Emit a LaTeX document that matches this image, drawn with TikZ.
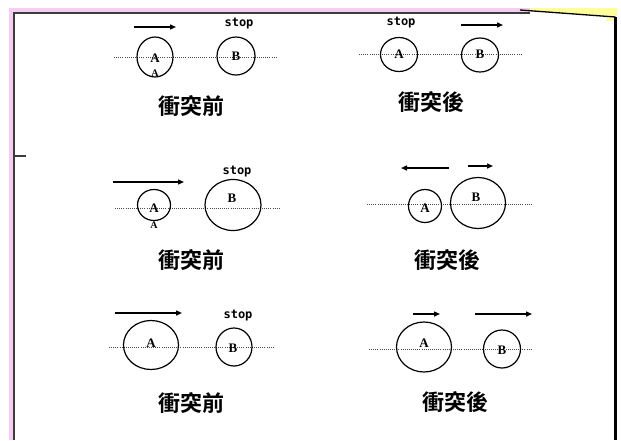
\documentclass[tikz,border=0pt]{standalone}
\usepackage{fontspec}
\usetikzlibrary{shapes.geometric,arrows.meta}
\newfontfamily\cjkfont{Noto Sans CJK TC}[BoldFont={Noto Sans CJK TC Bold}]
\newfontfamily\labfont{DejaVu Sans Mono}[BoldFont={DejaVu Sans Mono Bold}]
\newfontfamily\letfont{Liberation Serif}[BoldFont={Liberation Serif Bold}]
\definecolor{framegrey}{HTML}{3C3C3C}
\definecolor{pinkband}{HTML}{F6CDF2}
\definecolor{yellowband}{HTML}{FFFF99}
\tikzset{
  ball/.style={draw=black, line width=1.2pt, ellipse, inner sep=0pt, minimum width=#1},
  dotline/.style={draw=black!70, line width=0.8pt, dash pattern=on 0.9pt off 1.2pt},
  motion/.style={draw=black, line width=1.4pt, -{Triangle[length=6pt,width=5pt]}},
  stoplabel/.style={font=\labfont\bfseries\fontsize{12}{12}\selectfont, inner sep=0pt},
  balllabel/.style={font=\letfont\bfseries\fontsize{13}{13}\selectfont, inner sep=0pt},
  smalllabel/.style={font=\letfont\bfseries\fontsize{10}{10}\selectfont, inner sep=0pt},
  caption/.style={font=\cjkfont\bfseries\fontsize{22}{22}\selectfont, inner sep=0pt},
  frameline/.style={draw=framegrey, line width=2pt},
}
\begin{document}
\begin{tikzpicture}[x=1pt,y=-1pt]
\useasboundingbox (0,0) rectangle (621,440);
\fill[white] (0,0) rectangle (621,440);
% bands
\fill[pinkband] (9,8) rectangle (530,12);
\fill[pinkband] (9,8) rectangle (13,440);
\fill[yellowband] (530,8) -- (617,8) -- (617,16) -- (530,11) -- cycle;
\fill[yellowband] (606,18) rectangle (614,21);
% frame
\coordinate (ftl) at (14,13);
\coordinate (ftr) at (530,13);
\coordinate (fbl) at (14,440);
\coordinate (sa) at (520,10);
\coordinate (sb) at (615.5,17);
\coordinate (rb) at (615.5,440);
\coordinate (n1) at (14,156);
\coordinate (n2) at (26,156);
\draw[frameline] (fbl) -- (ftl) -- (ftr);
\draw[draw=black, line width=1.3pt] (sa) -- (sb);
\draw[draw=black, line width=2.5pt] (sb) -- (rb);
\draw[frameline, line width=2.5pt] (n1) -- (n2);

% ===== Row 1 left =====
\coordinate (d1s) at (114,57); \coordinate (d1e) at (277,57);
\draw[dotline] (d1s) -- (d1e);
\node[ball=36pt, minimum height=40pt] (a1) at (155,57) {};
\node[ball=38pt, minimum height=38pt] (b1) at (236,56) {};
\node[balllabel] (a1t) at (155,58) {A};
\node[smalllabel] (a1s) at (155,73) {A};
\node[balllabel] (b1t) at (236,56) {B};
\coordinate (m1s) at (134,27); \coordinate (m1e) at (176,27);
\draw[motion] (m1s) -- (m1e);
\node[stoplabel] (s1) at (239,24) {stop};
\node[caption] (c1) at (191,106) {衝突前};

% ===== Row 1 right =====
\coordinate (d2s) at (359,54); \coordinate (d2e) at (522,54);
\draw[dotline] (d2s) -- (d2e);
\node[ball=37pt, minimum height=34pt] (a2) at (399,54.5) {};
\node[ball=37pt, minimum height=34pt] (b2) at (480,55) {};
\node[balllabel] (a2t) at (399,54) {A};
\node[balllabel] (b2t) at (480,54) {B};
\node[stoplabel] (s2) at (401,23) {stop};
\coordinate (m2s) at (461,25); \coordinate (m2e) at (503,25);
\draw[motion] (m2s) -- (m2e);
\node[caption] (c2) at (431,102) {衝突後};

% ===== Row 2 left =====
\coordinate (d3s) at (115,208); \coordinate (d3e) at (280,208);
\draw[dotline] (d3s) -- (d3e);
\node[ball=33pt, minimum height=31pt] (a3) at (154,205) {};
\node[ball=56pt, minimum height=51pt] (b3) at (233,205) {};
\node[balllabel] (a3t) at (154,208) {A};
\node[smalllabel] (a3s) at (154,225) {A};
\node[balllabel] (b3t) at (232,198) {B};
\coordinate (m3s) at (113,182); \coordinate (m3e) at (184,182);
\draw[motion] (m3s) -- (m3e);
\node[stoplabel] (s3) at (237,172) {stop};
\node[caption] (c3) at (191,260) {衝突前};

% ===== Row 2 right =====
\coordinate (d4s) at (367,204); \coordinate (d4e) at (531,204);
\draw[dotline] (d4s) -- (d4e);
\node[ball=33pt, minimum height=33pt] (a4) at (425,206) {};
\node[ball=55pt, minimum height=51pt] (b4) at (478,203) {};
\node[balllabel] (a4t) at (425,208) {A};
\node[balllabel] (b4t) at (476,197) {B};
\coordinate (m4s) at (449,168); \coordinate (m4e) at (401,168);
\draw[motion] (m4s) -- (m4e);
\coordinate (m5s) at (468,166); \coordinate (m5e) at (493,166);
\draw[motion] (m5s) -- (m5e);
\node[caption] (c4) at (447,260) {衝突後};

% ===== Row 3 left =====
\coordinate (d5s) at (109,347); \coordinate (d5e) at (273,347);
\draw[dotline] (d5s) -- (d5e);
\node[ball=55pt, minimum height=49pt] (a5) at (151,345) {};
\node[ball=36pt, minimum height=38pt] (b5) at (234,347) {};
\node[balllabel] (a5t) at (151,343) {A};
\node[balllabel] (b5t) at (233,348) {B};
\coordinate (m6s) at (115,313); \coordinate (m6e) at (182,313);
\draw[motion] (m6s) -- (m6e);
\node[stoplabel] (s5) at (238,316) {stop};
\node[caption] (c5) at (191,403) {衝突前};

% ===== Row 3 right =====
\coordinate (d6s) at (369,349); \coordinate (d6e) at (531,349);
\draw[dotline] (d6s) -- (d6e);
\node[ball=55pt, minimum height=50pt] (a6) at (424,347) {};
\node[ball=37pt, minimum height=38pt] (b6) at (502,349) {};
\node[balllabel] (a6t) at (424,343) {A};
\node[balllabel] (b6t) at (502,350) {B};
\coordinate (m7s) at (413,314); \coordinate (m7e) at (440,314);
\draw[motion] (m7s) -- (m7e);
\coordinate (m8s) at (475,314); \coordinate (m8e) at (532,314);
\draw[motion] (m8s) -- (m8e);
\node[caption] (c6) at (455,402) {衝突後};
\end{tikzpicture}
\end{document}
